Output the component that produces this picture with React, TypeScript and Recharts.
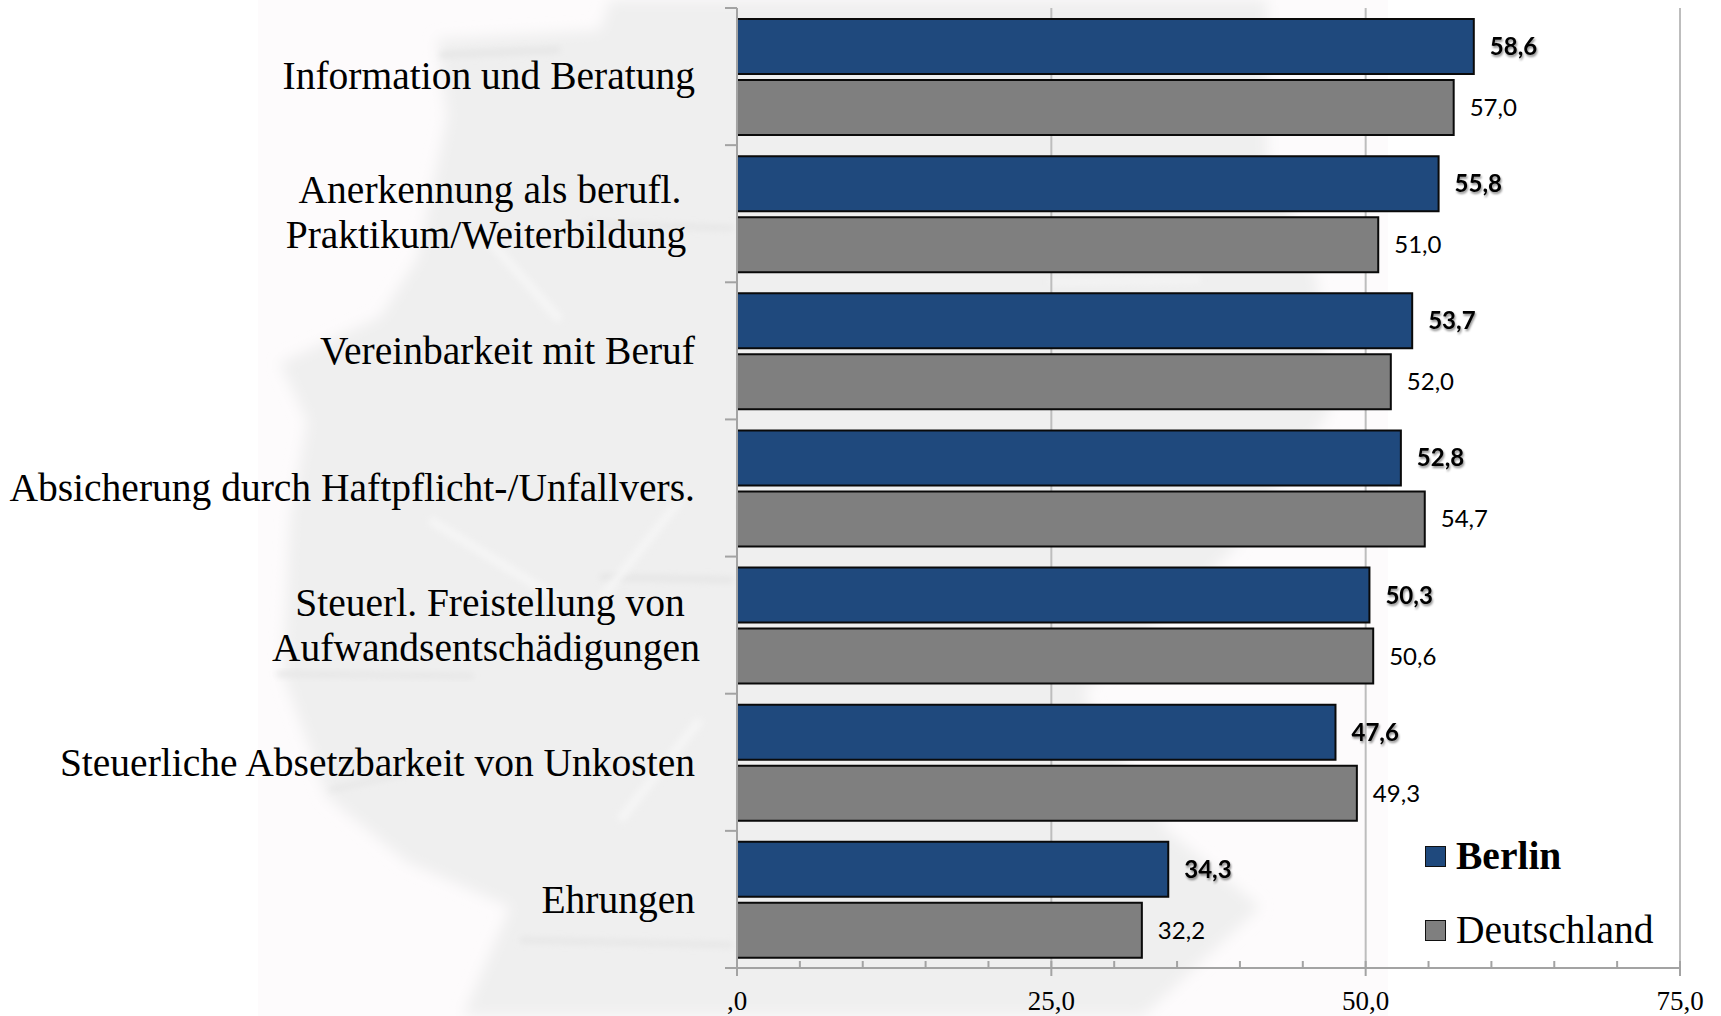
import React from "react";
import { BarChart, Bar, XAxis, YAxis, CartesianGrid, LabelList, Legend } from "recharts";

const categories = [
  "Information und Beratung",
  "Anerkennung als berufl.|Praktikum/Weiterbildung",
  "Vereinbarkeit mit Beruf",
  "Absicherung durch Haftpflicht-/Unfallvers.",
  "Steuerl. Freistellung von|Aufwandsentschädigungen",
  "Steuerliche Absetzbarkeit von Unkosten",
  "Ehrungen",
];
const berlin = [58.6, 55.8, 53.7, 52.8, 50.3, 47.6, 34.3];
const deutschland = [57.0, 51.0, 52.0, 54.7, 50.6, 49.3, 32.2];
const xTicks = [0, 5, 10, 15, 20, 25, 30, 35, 40, 45, 50, 55, 60, 65, 70, 75];
const majorTicks = [0, 25, 50, 75];
const tickLabels: Record<number, string> = { 0: ",0", 25: "25,0", 50: "50,0", 75: "75,0" };

const data = categories.map((c, i) => ({ c, berlin: berlin[i], deutschland: deutschland[i] }));

const SERIF = "'Liberation Serif', serif";
const SANS = "Lato, 'Open Sans', sans-serif";
const AXIS = "#a3a3a3";
const BAND = 960 / categories.length;
const LABEL_SIZE = 39.5;
const fmt = (v: number) => v.toFixed(1).replace(".", ",");

// Faint photographic watermark behind the chart (decoration only, not data).
const watermark =
  "437,39 600,30 610,0 1267,0 1267,155 1317,279 1330,410 1233,550 1083,693 1167,830 1260,907 1143,1016 463,1016 510,907 407,862 327,797 283,674 290,518 307,421 280,363 380,317 417,259 447,117";
const streaks = [
  [360, 411, 540, 411, 5],
  [330, 803, 463, 803, 6],
  [520, 940, 733, 945, 5],
  [600, 577, 733, 580, 6],
  [277, 674, 473, 676, 5],
  [583, 224, 733, 228, 5],
  [440, 55, 560, 50, 6],
  [330, 790, 420, 770, 4],
];
const highlights = [
  [430, 520, 560, 600, 9],
  [600, 600, 680, 500, 8],
  [620, 820, 700, 720, 9],
  [480, 230, 560, 320, 9],
  [800, 12, 1000, 12, 6],
  [1050, 282, 1200, 280, 5],
];

function Watermark() {
  return (
    <svg width={1721} height={1016} style={{ position: "absolute", left: 0, top: 0 }}>
      <defs>
        <filter id="wmBlur" x="-5%" y="-5%" width="110%" height="110%">
          <feGaussianBlur stdDeviation="7" />
        </filter>
        <filter id="wmBlur2" x="-30%" y="-300%" width="160%" height="700%">
          <feGaussianBlur stdDeviation="3" />
        </filter>
      </defs>
      <rect x={258} y={0} width={1130} height={1016} fill="#fdfbfc" />
      <polygon points={watermark} fill="#efefef" filter="url(#wmBlur)" />
      {streaks.map((s, i) => (
        <line key={i} x1={s[0]} y1={s[1]} x2={s[2]} y2={s[3]} stroke="#e5e5e5" strokeWidth={s[4]} filter="url(#wmBlur2)" />
      ))}
      {highlights.map((s, i) => (
        <line key={i} x1={s[0]} y1={s[1]} x2={s[2]} y2={s[3]} stroke="#f5f5f5" strokeWidth={s[4]} filter="url(#wmBlur2)" />
      ))}
    </svg>
  );
}

function CatTick({ x, y, payload }: any) {
  const lines = String(payload.value).split("|");
  const isLast = payload.value === categories[categories.length - 1];
  const drift = 1 + (2 * y) / 900;
  return (
    <g>
      <line x1={x - 12} x2={x} y1={y - BAND / 2} y2={y - BAND / 2} stroke={AXIS} strokeWidth={2} />
      {isLast && <line x1={x - 12} x2={x} y1={y + BAND / 2} y2={y + BAND / 2} stroke={AXIS} strokeWidth={2} />}
      {lines.length === 1 ? (
        <text x={x - 42} y={y + 11 + drift} textAnchor="end" fontFamily={SERIF} fontSize={LABEL_SIZE} fill="#000">
          {lines[0]}
        </text>
      ) : (
        <text textAnchor="middle" fontFamily={SERIF} fontSize={LABEL_SIZE} fill="#000">
          <tspan x={x - 247} y={y - 12 + drift}>{lines[0]}</tspan>
          <tspan x={x - 251} y={y + 33 + drift}>{lines[1]}</tspan>
        </text>
      )}
    </g>
  );
}

function ValTick({ x, y, payload }: any) {
  const major = majorTicks.includes(payload.value);
  return (
    <g>
      <line x1={x} x2={x} y1={y - 7} y2={major ? y + 8 : y} stroke={AXIS} strokeWidth={2} />
      {major && (
        <text x={x} y={y + 42} textAnchor="middle" fontFamily={SERIF} fontSize={27} fill="#000">
          {tickLabels[payload.value]}
        </text>
      )}
    </g>
  );
}

function LegendBox() {
  const rows = [
    { name: "Berlin", color: "#1f497d", bold: true, top: 0 },
    { name: "Deutschland", color: "#7f7f7f", bold: false, top: 74 },
  ];
  return (
    <div style={{ position: "relative", width: 280, height: 0 }}>
      {rows.map((r) => (
        <div key={r.name} style={{ position: "absolute", left: 0, top: r.top, height: 40, display: "flex", alignItems: "center", whiteSpace: "nowrap" }}>
          <span style={{ width: 19, height: 19, background: r.color, border: "1.5px solid #111", display: "inline-block", marginRight: 10 }} />
          <span style={{ fontFamily: SERIF, fontSize: 39.5, fontWeight: r.bold ? 700 : 400, color: "#000", lineHeight: "40px" }}>{r.name}</span>
        </div>
      ))}
    </div>
  );
}

export default function App() {
  return (
    <div style={{ position: "absolute", left: 0, top: 0, width: 1721, height: 1016, background: "#fff", overflow: "hidden" }}>
      <Watermark />
      <BarChart
        width={1721}
        height={1016}
        data={data}
        layout="vertical"
        margin={{ top: 8, right: 41, bottom: 0, left: 0 }}
        barSize={55}
        barGap={6}
        style={{ position: "absolute", left: 0, top: 0 }}
      >
        <CartesianGrid horizontal={false} verticalValues={[25, 50, 75]} stroke="#bdbdbd" strokeWidth={2} />
        <XAxis
          type="number"
          domain={[0, 75]}
          ticks={xTicks}
          interval={0}
          height={48}
          tickSize={0}
          tickMargin={0}
          axisLine={{ stroke: AXIS, strokeWidth: 2 }}
          tickLine={false}
          tick={<ValTick />}
        />
        <XAxis xAxisId="top" type="number" orientation="top" domain={[0, 75]} height={0} tick={false} tickLine={false} axisLine={{ stroke: "#bdbdbd", strokeWidth: 2 }} />
        <YAxis
          type="category"
          dataKey="c"
          width={737}
          interval={0}
          tickSize={0}
          tickMargin={0}
          axisLine={{ stroke: AXIS, strokeWidth: 2 }}
          tickLine={false}
          tick={<CatTick />}
        />
        <Legend
          content={<LegendBox />}
          wrapperStyle={{ position: "absolute", left: 1425, top: 836, width: 280, height: 0 }}
        />
        <Bar dataKey="berlin" name="Berlin" fill="#1f497d" stroke="#0a0a0a" strokeWidth={2} isAnimationActive={false}>
          <LabelList
            dataKey="berlin"
            position="right"
            offset={16}
            formatter={fmt}
            fill="#000"
            fontFamily={SANS}
            fontSize={24}
            fontWeight={700}
            style={{ filter: "drop-shadow(1px 2px 1px rgba(0,0,0,0.45))" }}
          />
        </Bar>
        <Bar dataKey="deutschland" name="Deutschland" fill="#7f7f7f" stroke="#0a0a0a" strokeWidth={2} isAnimationActive={false}>
          <LabelList dataKey="deutschland" position="right" offset={16} formatter={fmt} fill="#000" fontFamily={SANS} fontSize={24} />
        </Bar>
      </BarChart>
    </div>
  );
}
